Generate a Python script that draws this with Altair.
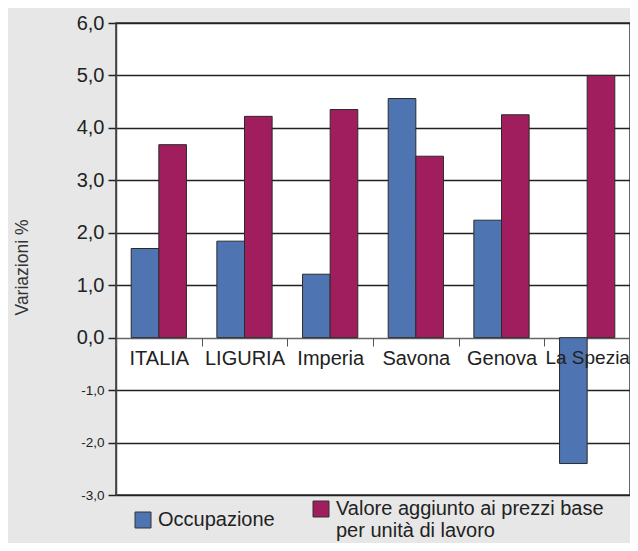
import altair as alt
import pandas as pd

categories = ["ITALIA", "LIGURIA", "Imperia", "Savona", "Genova", "La Spezia"]
series = ["Occupazione", "Valore aggiunto ai prezzi base per unità di lavoro"]
occupazione = [1.70, 1.84, 1.21, 4.56, 2.24, -2.40]
valore = [3.68, 4.22, 4.35, 3.46, 4.25, 5.00]
y_ticks = [-3, -2, -1, 0, 1, 2, 3, 4, 5, 6]
colors = ["#4e74b1", "#a11e5e"]

rows = []
for c, o, v in zip(categories, occupazione, valore):
    rows.append({"cat": c, "serie": series[0], "val": o})
    rows.append({"cat": c, "serie": series[1], "val": v})
df = pd.DataFrame(rows)

FONT = "Liberation Sans"

chart = alt.Chart(df).mark_bar(stroke="#2b2b2b", strokeWidth=1).encode(
    x=alt.X(
        "cat:N",
        sort=categories,
        scale=alt.Scale(paddingInner=0, paddingOuter=0),
        axis=alt.Axis(
            title=None, orient="bottom", offset=-157, domain=False,
            tickBand="extent", tickSize=8, tickColor="#555", tickWidth=1,
            labelFontSize={"condition": {"test": "datum.label == 'La Spezia'", "value": 19}, "value": 20},
            labelColor="#222", labelPadding=2, labelAngle=0,
            labelFont=FONT, zindex=1,
        ),
    ),
    xOffset=alt.XOffset(
        "serie:N", sort=series,
        scale=alt.Scale(paddingOuter=0.55, paddingInner=0),
    ),
    y=alt.Y(
        "val:Q",
        scale=alt.Scale(domain=[-3, 6], nice=False, zero=False),
        axis=alt.Axis(
            values=y_ticks,
            title="Variazioni %",
            titleFont=FONT, titleFontSize=17.5, titleFontWeight="normal",
            titleColor="#333", titleAngle=-90, titleX=-94, titleY=244,
            titleAlign="center", titleBaseline="middle",
            labelExpr="replace(replace(format(datum.value, '.1f'), '.', ','), '\u2212', '-')",
            labelFontSize={"condition": {"test": "datum.value < 0", "value": 13.5}, "value": 20},
            labelFont=FONT, labelColor="#222", labelPadding=4,
            tickSize=8, tickColor="#222", tickWidth=1.5,
            grid=True,
            gridColor={"condition": {"test": "datum.value == 0", "value": "#666"}, "value": "#222"},
            gridWidth=1.5,
            domain=True, domainColor="#444", domainWidth=1.5,
        ),
    ),
    color=alt.Color(
        "serie:N",
        scale=alt.Scale(domain=series, range=colors),
        legend=alt.Legend(
            title=None, orient="none", legendX=17, legendY=476,
            direction="horizontal", symbolType="square", symbolSize=256,
            symbolStrokeColor="#333", symbolStrokeWidth=1, symbolOpacity=1,
            labelFont=FONT, labelFontSize=20, labelColor="#222",
            labelLimit=400, labelOffset=5, columnPadding=36, padding=0,
            labelExpr="datum.label == 'Occupazione' ? datum.label : ['Valore aggiunto ai prezzi base', 'per unità di lavoro']",
        ),
    ),
).properties(
    width=514,
    height=472,
    autosize=alt.AutoSizeParams(type="none"),
    padding={"left": 108, "top": 15, "right": 0, "bottom": 48},
).configure(
    background="#e7e7e7",
).configure_view(
    fill="white", stroke="#333", strokeWidth=1.5,
)

chart.save("out.html", embed_options={"renderer": "svg", "actions": False})
